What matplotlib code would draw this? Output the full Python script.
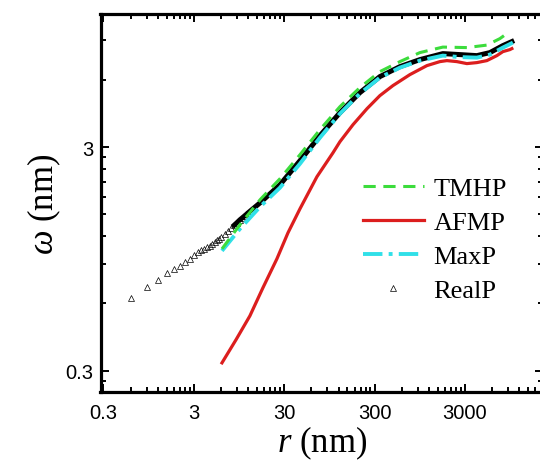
import numpy as np
import matplotlib
matplotlib.use('Agg')
import matplotlib.pyplot as plt
from matplotlib.ticker import FixedLocator, NullFormatter

# TMHP
tmhp_r = [6.14, 9.70, 16.2, 26.9, 44.8, 74.5, 124, 206, 343, 572, 951, 1708, 3149, 5241, 7299, 8721]
tmhp_w = [1.051, 1.347, 1.743, 2.164, 2.771, 3.585, 4.545, 5.528, 6.519, 7.227, 7.930, 8.393,
          8.350, 8.567, 9.158, 9.646]

# AFMP
afmp_r = [6.14, 8.77, 12.5, 17.4, 24.9, 33.0, 44.8, 69.0, 104, 124, 173, 247, 343, 478, 737,
          1137, 1583, 1892, 2441, 3149, 4063, 5241, 6762, 7878, 9414, 9909]
afmp_w = [0.325, 0.412, 0.527, 0.703, 0.949, 1.240, 1.588, 2.209, 2.829, 3.168, 3.776, 4.451,
          5.091, 5.644, 6.321, 6.935, 7.227, 7.302, 7.227, 7.081, 7.154, 7.302, 7.687, 8.011,
          8.177, 8.263]

# MaxP
maxp_r = [6.14, 9.70, 16.2, 26.9, 44.8, 74.5, 124, 206, 343, 572, 951, 1708, 2635, 4063, 5657,
          7878, 10164]
maxp_w = [1.030, 1.292, 1.621, 1.973, 2.525, 3.302, 4.228, 5.196, 6.129, 6.794, 7.302, 7.687,
          7.570, 7.531, 7.769, 8.350, 8.790]

# RealP
real_r = [0.6, 0.9, 1.2, 1.5, 1.8, 2.1, 2.4, 2.7, 3.0, 3.3, 3.6, 3.9, 4.2, 4.5, 4.8, 5.1, 5.4,
          5.7, 6.0, 6.6, 7.2, 7.8, 8.4, 9.0, 9.7, 10.2, 10.8, 11.4, 12.0, 16.2, 26.9, 44.8,
          74.5, 124, 206, 343, 572, 951, 1708, 2635, 4063, 5657, 7878, 9909]
real_w = [0.633, 0.709, 0.766, 0.821, 0.856, 0.885, 0.917, 0.949, 0.982, 1.016, 1.036, 1.054,
          1.071, 1.087, 1.103, 1.124, 1.146, 1.168, 1.189, 1.229, 1.268, 1.306, 1.342, 1.377,
          1.418, 1.442, 1.470, 1.498, 1.526, 1.688, 2.034, 2.605, 3.370, 4.272, 5.250, 6.193,
          6.863, 7.378, 7.848, 7.769, 7.687, 7.930, 8.522, 8.882]

x_major = [0.3, 3, 30, 300, 3000, 30000]
y_major = [0.3, 3]

plt.rcParams['mathtext.fontset'] = 'custom'
plt.rcParams['mathtext.rm'] = 'Liberation Serif'
plt.rcParams['mathtext.it'] = 'Liberation Serif:italic'

fig = plt.figure(figsize=(5.4, 4.64), dpi=100)
ax = fig.add_axes([100.5 / 540, 1 - 393.3 / 464, 442.5 / 540, 378.3 / 464])

real_r_arr = np.array(real_r)
real_w_arr = np.array(real_w)
sparse = real_r_arr <= 12
# dense markers merge into a thick black line at larger r
dense = real_r_arr >= 8.4

ax.plot(tmhp_r, tmhp_w, color='#3cdc3c', lw=2.2, dashes=(4, 2.5), label='TMHP', zorder=6)
ax.plot(afmp_r, afmp_w, color='#dc1e1e', lw=2.3, label='AFMP', zorder=2)
ax.plot(maxp_r, maxp_w, color='#30e0e8', lw=2.8, dashes=(5, 1.6, 1, 1.6), label='MaxP', zorder=5)
ax.plot(real_r_arr[sparse], real_w_arr[sparse], ls='none', marker='^', ms=4, mfc='none',
        mec='black', mew=0.5, label='RealP', zorder=4)
ax.plot(real_r_arr[dense], real_w_arr[dense], color='black', lw=3.6, zorder=4,
        solid_joinstyle='round')

ax.set_xscale('log')
ax.set_yscale('log')
ax.set_xlim(0.278, 21900)
ax.set_ylim(0.24, 11.8)

x_minor = [k * m for m in x_major for k in range(2, 10)]
y_minor = [k * m / 10 for m in [0.3, 3, 30] for k in range(2, 10)]
ax.xaxis.set_major_locator(FixedLocator(x_major))
ax.xaxis.set_minor_locator(FixedLocator(x_minor))
ax.yaxis.set_major_locator(FixedLocator(y_major))
ax.yaxis.set_minor_locator(FixedLocator(y_minor))
ax.set_xticklabels([str(v) for v in x_major])
ax.set_yticklabels([str(v) for v in y_major])
ax.xaxis.set_minor_formatter(NullFormatter())
ax.yaxis.set_minor_formatter(NullFormatter())

for s in ax.spines.values():
    s.set_linewidth(2.3)
ax.tick_params(which='both', direction='in', top=True, right=True, width=1.4)
ax.tick_params(which='major', length=6)
ax.tick_params(which='minor', length=3.5)
ax.tick_params(axis='x', which='major', pad=8, labelsize=14.5)
ax.tick_params(axis='y', which='major', pad=5, labelsize=14.5)
for lab in ax.get_xticklabels() + ax.get_yticklabels():
    lab.set_fontfamily('Liberation Sans')

ax.set_xlabel(r'$r$ (nm)', fontsize=25, family='Liberation Serif', labelpad=1)
ax.set_ylabel(r'$\omega$ (nm)', fontsize=25, family='Liberation Serif', labelpad=2)

leg = ax.legend(loc='upper left', bbox_to_anchor=(0.593, 0.57), frameon=False,
                prop={'family': 'Liberation Serif', 'size': 19}, borderpad=0,
                borderaxespad=0, handlelength=2.3, handletextpad=0.38, labelspacing=0.4)

fig.savefig('out.png', dpi=100)
